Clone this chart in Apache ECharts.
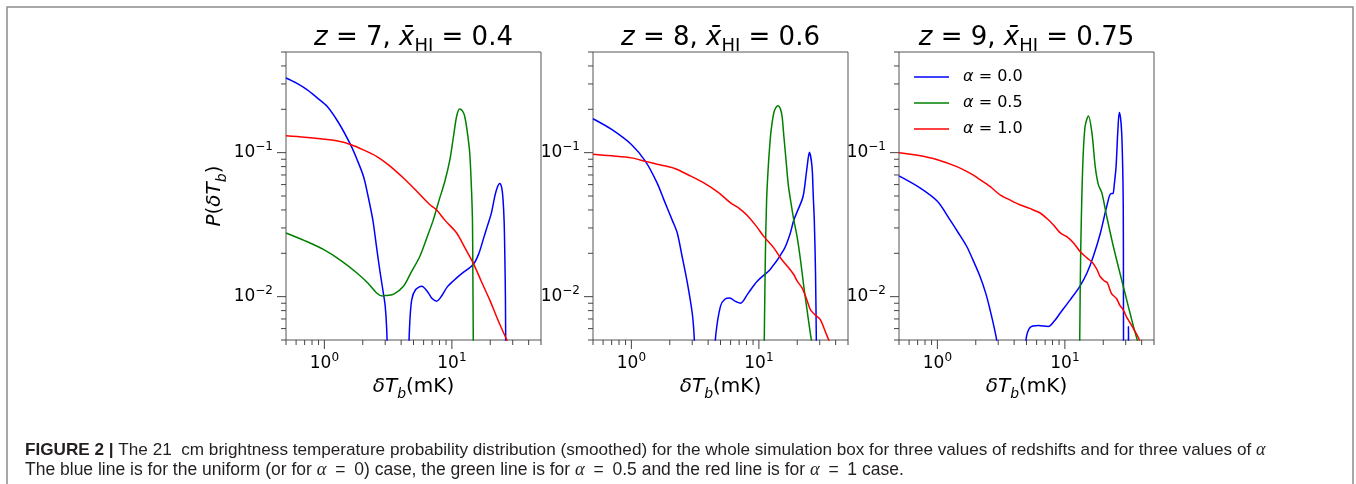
<!DOCTYPE html>
<html><head><meta charset="utf-8">
<script src="https://cdn.jsdelivr.net/npm/echarts@6/dist/echarts.min.js"></script>
<style>html,body{margin:0;padding:0;background:#fff}#c{width:1356px;height:484px}</style>
</head><body><div id="c"></div>
<script>
// ---------- data (δT_b in mK, P(δT_b)) ----------
const SERIES_NAMES = ['α = 0.0', 'α = 0.5', 'α = 1.0'];
const COLORS = ['#0000ff', '#008000', '#ff0000'];
const REDSHIFTS = ['7', '8', '9'];
const XHI = ['0.4', '0.6', '0.75'];
const X_MAJOR = [1, 10];
const X_MINOR = [0.5, 0.6, 0.7, 0.8, 0.9, 2, 3, 4, 5, 6, 7, 8, 9, 20, 30, 40, 50];
const Y_MAJOR = [0.01, 0.1];
const Y_MINOR = [0.005, 0.006, 0.007, 0.008, 0.009, 0.02, 0.03, 0.04, 0.05, 0.06, 0.07, 0.08, 0.09, 0.2, 0.3, 0.4, 0.5];
const X_RANGE = [0.5, 50];
const Y_RANGE = [0.005, 0.5];

// z = 7
const Z7_A00_PART1 = [[0.5,0.33],[0.6,0.305],[0.73,0.274],[0.88,0.24],[1.05,0.21],[1.3,0.16],[1.6,0.114],[1.8,0.09],[2.03,0.068],[2.2,0.05],[2.4,0.034],[2.55,0.023],[2.74,0.0146],[2.9,0.0106],[3.0,0.0086],[3.08,0.006],[3.15,0.003]];
const Z7_A00_PART2 = [[4.55,0.003],[4.65,0.006],[4.84,0.0095],[5.2,0.0112],[5.8,0.0118],[6.5,0.0107],[7.0,0.0097],[7.6,0.0093],[8.3,0.0101],[9.2,0.0117],[10.2,0.0128],[12,0.0145],[14.7,0.0167],[16.3,0.02],[17.6,0.0249],[19,0.031],[20.4,0.038],[21.7,0.0497],[22.8,0.058],[23.7,0.061],[24.6,0.057],[25.2,0.047],[25.7,0.033],[26.0,0.02],[26.3,0.01],[26.5,0.003]];
const Z7_A05 = [[0.5,0.0277],[0.7,0.0245],[0.99,0.0212],[1.35,0.0178],[1.8,0.0146],[2.2,0.0124],[2.57,0.0106],[2.85,0.0101],[3.09,0.0102],[3.5,0.0104],[4.17,0.0118],[4.8,0.0148],[5.6,0.019],[6.4,0.026],[7.14,0.034],[7.95,0.047],[8.8,0.063],[9.64,0.089],[10.3,0.13],[10.9,0.179],[11.5,0.201],[12.1,0.195],[12.6,0.179],[13.2,0.14],[13.8,0.0995],[14.2,0.06],[14.5,0.034],[14.6,0.015],[14.7,0.006],[14.75,0.003]];
const Z7_A10 = [[0.5,0.131],[0.7,0.128],[1.0,0.124],[1.3,0.12],[1.6,0.114],[2.0,0.105],[2.58,0.094],[3.2,0.082],[4.17,0.0667],[5.3,0.054],[6.73,0.0435],[7.6,0.04],[8.8,0.034],[10.9,0.0277],[12.6,0.022],[14.7,0.0171],[17,0.0128],[19.8,0.0095],[22.5,0.0072],[25,0.0058],[27,0.005],[29,0.0042]];

// z = 8
const Z8_A00_PART1 = [[0.5,0.172],[0.7,0.145],[1.0,0.114],[1.29,0.087],[1.59,0.0617],[1.8,0.047],[2.09,0.034],[2.29,0.0277],[2.5,0.019],[2.75,0.0124],[3.0,0.0077],[3.1,0.0055],[3.2,0.003]];
const Z8_A00_PART2 = [[4.4,0.003],[4.6,0.0055],[5.0,0.0086],[5.4,0.0096],[5.92,0.0098],[6.5,0.0093],[7.18,0.009],[8.2,0.0105],[9.7,0.0128],[12.3,0.0155],[15.7,0.0212],[17.5,0.027],[18.8,0.034],[21.8,0.047],[22.5,0.0525],[23.9,0.08],[24.9,0.1005],[26.1,0.08],[26.7,0.05],[27.2,0.034],[27.8,0.015],[28.3,0.004]];
const Z8_A05 = [[10.95,0.003],[11.05,0.006],[11.25,0.02],[11.5,0.047],[11.8,0.075],[12.1,0.105],[12.5,0.145],[13.2,0.194],[14.1,0.212],[14.7,0.203],[15.2,0.179],[15.7,0.13],[16.4,0.085],[17.0,0.06],[17.7,0.047],[18.8,0.034],[19.95,0.026],[21.2,0.018],[22.5,0.0118],[24,0.0078],[25.8,0.005],[27,0.004]];
const Z8_A10 = [[0.5,0.0974],[0.7,0.095],[1.0,0.092],[1.29,0.087],[1.6,0.083],[2.16,0.078],[2.8,0.07],[3.7,0.0617],[4.8,0.053],[6.0,0.0448],[7.0,0.041],[8.0,0.037],[9.5,0.031],[11,0.026],[13,0.022],[15.1,0.0181],[17,0.016],[18.8,0.0142],[20,0.0128],[21.8,0.0115],[23.5,0.0098],[25.4,0.0081],[28,0.0074],[30.4,0.0069],[33,0.0058],[35.3,0.005],[38,0.0043]];

// z = 9
const Z9_A00_PART1 = [[0.5,0.069],[0.73,0.057],[1.0,0.046],[1.26,0.034],[1.45,0.028],[1.7,0.0223],[1.9,0.018],[2.16,0.0138],[2.4,0.0105],[2.59,0.0081],[2.8,0.006],[2.95,0.0047],[3.05,0.003]];
const Z9_A00_PART2 = [[4.8,0.003],[4.95,0.005],[5.33,0.0061],[6.2,0.0063],[7.4,0.0062],[8.3,0.0068],[9.2,0.0077],[11,0.0095],[13.1,0.0118],[14.9,0.0146],[16.7,0.019],[19,0.0277],[21.3,0.0424],[22.9,0.0519],[23.8,0.052],[24.4,0.06],[25.2,0.08],[26,0.14],[26.7,0.19],[27.3,0.175],[27.9,0.137],[28.4,0.08],[28.7,0.042],[28.8,0.01],[28.85,0.003]];
const Z9_A00_PART3 = [[31.3,0.003],[31.5,0.0062],[31.7,0.003]];
const Z9_A05 = [[13.0,0.003],[13.1,0.006],[13.3,0.02],[13.8,0.08],[14.4,0.152],[15.3,0.18],[16.3,0.137],[17.3,0.08],[18.3,0.06],[19.5,0.0525],[21.3,0.036],[24,0.0223],[28.7,0.0118],[34.5,0.0062],[37,0.005],[39,0.0043]];
const Z9_A10 = [[0.5,0.1],[0.7,0.096],[1.0,0.0894],[1.42,0.08],[1.8,0.072],[2.16,0.065],[2.6,0.058],[3.1,0.051],[3.7,0.047],[4.43,0.0435],[5.3,0.041],[6.4,0.0381],[7.2,0.035],[8.1,0.0316],[9.2,0.0277],[10.4,0.026],[11.7,0.0236],[13.2,0.0205],[14.9,0.0186],[16.5,0.0172],[17.8,0.0155],[18.9,0.0138],[20.3,0.0129],[21.5,0.0125],[23.2,0.0105],[25.4,0.0097],[27,0.0087],[28.7,0.0081],[30.5,0.0072],[32.4,0.0066],[34.5,0.006],[37.7,0.0052],[40,0.0045]];

const PANELS = [
  [[Z7_A00_PART1, Z7_A00_PART2], [Z7_A05], [Z7_A10]],
  [[Z8_A00_PART1, Z8_A00_PART2], [Z8_A05], [Z8_A10]],
  [[Z9_A00_PART1, Z9_A00_PART2, Z9_A00_PART3], [Z9_A05], [Z9_A10]]
];

// ---------- chart ----------
const FONT = 'DejaVu Sans';
const GRID_LEFTS = [286, 593, 899];
const GRID_TOP = 52, GRID_W = 255, GRID_H = 288;
const SUP = {'-1': '−1', '-2': '−2', '0': '0', '1': '1'};

function tickLabel(v) {
  const l = Math.log10(v), e = Math.round(l);
  if (Math.abs(l - e) > 1e-6) return '';
  return '{n|10}{e|' + (SUP[String(e)] || String(e)) + '}';
}
const labelRich = {
  n: {fontSize: 17, fontFamily: FONT, color: '#000', lineHeight: 23, verticalAlign: 'middle'},
  e: {fontSize: 12, fontFamily: FONT, color: '#000', lineHeight: 13, verticalAlign: 'top'}
};
const nameRich = {
  r: {fontSize: 20, fontFamily: FONT, color: '#000', lineHeight: 28},
  i: {fontSize: 20, fontFamily: FONT, fontStyle: 'italic', color: '#000', lineHeight: 28},
  s: {fontSize: 14, fontFamily: FONT, fontStyle: 'italic', color: '#000', lineHeight: 13, verticalAlign: 'bottom'}
};

const grids = [], xAxes = [], yAxes = [], titles = [], series = [];
GRID_LEFTS.forEach((left, gi) => {
  grids.push({left, top: GRID_TOP, width: GRID_W, height: GRID_H, show: true, borderColor: '#555', borderWidth: 1, backgroundColor: 'transparent'});
  xAxes.push({
    gridIndex: gi, type: 'log', logBase: 10, min: X_RANGE[0], max: X_RANGE[1],
    axisLine: {show: false}, axisTick: {show: false}, splitLine: {show: false},
    axisLabel: {formatter: tickLabel, rich: labelRich, margin: 12},
    name: '{i|δT}{s|b}{r|(mK)}', nameLocation: 'middle', nameGap: 33,
    nameTextStyle: {rich: nameRich, fontSize: 20, fontFamily: FONT, color: '#000'}
  });
  yAxes.push({
    gridIndex: gi, type: 'log', logBase: 10, min: Y_RANGE[0], max: Y_RANGE[1],
    axisLine: {show: false}, axisTick: {show: false}, splitLine: {show: false},
    axisLabel: {formatter: tickLabel, rich: labelRich, margin: 13},
    name: gi === 0 ? '{i|P}{r|(}{i|δT}{s|b}{r|)}' : '', nameLocation: 'middle', nameGap: 57,
    nameTextStyle: {rich: nameRich, fontSize: 20, fontFamily: FONT, color: '#000'}
  });
  titles.push({
    text: '{i|z}{r| = ' + REDSHIFTS[gi] + ', }{i|x̄}{s|HI}{r| = ' + XHI[gi] + '}',
    left: left + GRID_W / 2, top: 21, textAlign: 'center', padding: 0,
    textStyle: {
      fontSize: 26, fontFamily: FONT, fontWeight: 'normal', color: '#000', lineHeight: 34,
      rich: {
        r: {fontSize: 26, fontFamily: FONT, color: '#000', lineHeight: 34},
        i: {fontSize: 26, fontFamily: FONT, fontStyle: 'italic', color: '#000', lineHeight: 34},
        s: {fontSize: 18, fontFamily: FONT, color: '#000', lineHeight: 18, verticalAlign: 'bottom'}
      }
    }
  });
  PANELS[gi].forEach((segs, si) => {
    segs.forEach(d => series.push({
      type: 'line', name: SERIES_NAMES[si], xAxisIndex: gi, yAxisIndex: gi, data: d,
      symbol: 'none', smooth: 0.3, clip: true, silent: true,
      lineStyle: {width: 1.5, color: COLORS[si]}, itemStyle: {color: COLORS[si]}
    }));
  });
  const ticks = [];
  X_MAJOR.forEach(v => ticks.push([v, Y_RANGE[0], 0, 1]));
  X_MINOR.forEach(v => ticks.push([v, Y_RANGE[0], 0, 0]));
  Y_MAJOR.forEach(v => ticks.push([X_RANGE[0], v, 1, 1]));
  Y_MINOR.forEach(v => ticks.push([X_RANGE[0], v, 1, 0]));
  series.push({
    type: 'custom', name: 'ticks', xAxisIndex: gi, yAxisIndex: gi, data: ticks, clip: false, silent: true,
    encode: {x: 0, y: 1},
    renderItem: (params, api) => {
      const p = api.coord([api.value(0), api.value(1)]);
      const len = api.value(3) ? 9 : 5;
      const isY = api.value(2) === 1;
      return {type: 'line',
        shape: isY ? {x1: p[0], y1: p[1], x2: p[0] - len, y2: p[1]} : {x1: p[0], y1: p[1], x2: p[0], y2: p[1] + len},
        style: {stroke: '#444', lineWidth: 1}};
    }
  });
});

const EN = '\u2002';
const CAPTION_1 = 'The 21  cm brightness temperature probability distribution (smoothed) for the whole simulation box for three values of redshifts and for three values of ';
const CAPTION_2a = 'The blue line is for the uniform (or for ';
const CAPTION_2b = EN + '=' + EN + '0) case, the green line is for ';
const CAPTION_2c = EN + '=' + EN + '0.5 and the red line is for ';
const CAPTION_2d = EN + '=' + EN + '1 case.';
const capRich1 = {
  b: {fontFamily: 'Liberation Sans', fontWeight: 'bold', fontSize: 17.15, fill: '#231f20'},
  a: {fontFamily: 'Liberation Serif', fontStyle: 'italic', fontSize: 18, fill: '#231f20'}
};
const capRich2 = {
  a: {fontFamily: 'Liberation Serif', fontStyle: 'italic', fontSize: 18.5, fill: '#231f20'}
};

const chart = echarts.init(document.getElementById('c'), null, {renderer: 'canvas'});
chart.setOption({
  animation: false,
  backgroundColor: '#fff',
  title: titles,
  grid: grids, xAxis: xAxes, yAxis: yAxes,
  legend: {
    data: SERIES_NAMES, left: 909, top: 64, orient: 'vertical', icon: 'rect',
    itemWidth: 35, itemHeight: 1.5, itemGap: 10,
    formatter: n => '{i|α}{r|' + n.slice(1) + '}',
    textStyle: {fontSize: 16, fontFamily: FONT, color: '#000', padding: [0, 0, 0, 9], lineHeight: 16,
      rich: {i: {fontSize: 16, fontFamily: FONT, fontStyle: 'italic', color: '#000', lineHeight: 16}, r: {fontSize: 16, fontFamily: FONT, color: '#000', lineHeight: 16}}}
  },
  series,
  graphic: [
    {type: 'polyline', silent: true, shape: {points: [[7, 484], [7, 7], [1353, 7], [1353, 484]]}, style: {stroke: '#8c8c8c', lineWidth: 1.5, fill: null}},
    {type: 'text', left: 25, top: 441, silent: true,
      style: {text: '{b|FIGURE 2 |} ' + CAPTION_1 + '{a|α}', font: '17.15px "Liberation Sans"', fill: '#231f20', rich: capRich1}},
    {type: 'text', left: 25, top: 461, silent: true,
      style: {text: CAPTION_2a + '{a|α}' + CAPTION_2b + '{a|α}' + CAPTION_2c + '{a|α}' + CAPTION_2d, font: '17.5px "Liberation Sans"', fill: '#231f20', rich: capRich2}}
  ]
});
</script></body></html>
